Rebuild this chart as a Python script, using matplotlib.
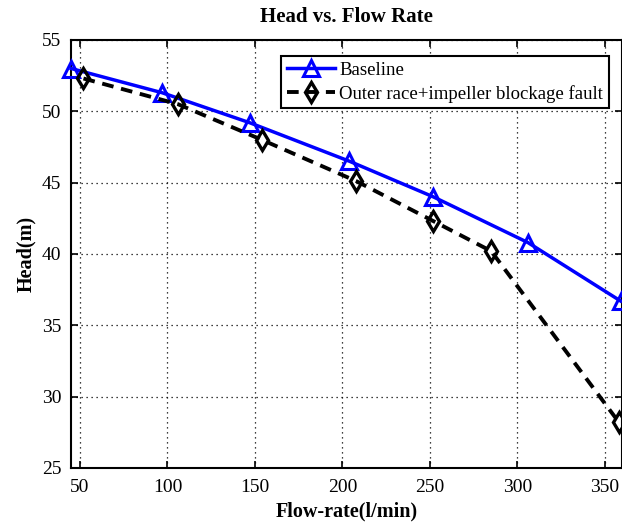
import matplotlib
matplotlib.use("Agg")
import matplotlib.pyplot as plt

# values
flow_base = [45, 97, 147, 204, 252, 306, 359]
head_base = [53.0, 51.3, 49.2, 46.5, 44.0, 40.8, 36.7]

flow_fault = [52, 106, 154, 208, 252, 285, 358]
head_fault = [52.3, 50.5, 48.0, 45.1, 42.3, 40.2, 28.2]

x_ticks = [50, 100, 150, 200, 250, 300, 350]
y_ticks = [25, 30, 35, 40, 45, 50, 55]

plt.rcParams["font.family"] = ["Liberation Serif", "DejaVu Serif"]

fig = plt.figure(figsize=(6.22, 5.26), dpi=100)
ax = fig.add_axes([0.1145, 0.1103, 0.8862, 0.8137])

ax.plot(flow_base, head_base, "-", color="blue", linewidth=2.5,
        marker="^", markersize=11, markerfacecolor="none",
        markeredgewidth=2.2, label="Baseline", clip_on=False, zorder=3)
ax.plot(flow_fault, head_fault, "--", color="black", linewidth=2.8,
        dashes=(3, 2), marker="d", markersize=10, markerfacecolor="none",
        markeredgewidth=2.4, label="Outer race+impeller blockage fault",
        clip_on=False, zorder=3)

ax.set_xlim(45, 360)
ax.set_ylim(25, 55)
ax.set_xticks(x_ticks)
ax.set_yticks(y_ticks)
ax.tick_params(direction="in", top=True, right=True, labelsize=14,
               length=5, width=1.2)
ax.tick_params(axis="x", pad=8)
ax.tick_params(axis="y", pad=7)
ax.grid(True, linestyle=(0, (1, 3)), color="black", linewidth=0.9)
for s in ax.spines.values():
    s.set_linewidth(1.5)

ax.set_title("Head vs. Flow Rate", fontsize=15, fontweight="bold", pad=13)
ax.set_xlabel("Flow-rate(l/min)", fontsize=14.5, fontweight="bold", labelpad=4)
ax.set_ylabel("Head(m)", fontsize=14.5, fontweight="bold", labelpad=4)

leg = ax.legend(loc="upper right", bbox_to_anchor=(0.985, 0.975),
                fontsize=13.5, fancybox=False, framealpha=1,
                edgecolor="black", borderaxespad=0.3, handlelength=2.6,
                handletextpad=0.2, borderpad=0.3, labelspacing=0.3)
leg.get_frame().set_linewidth(1.5)

fig.savefig("out.png", dpi=100)
